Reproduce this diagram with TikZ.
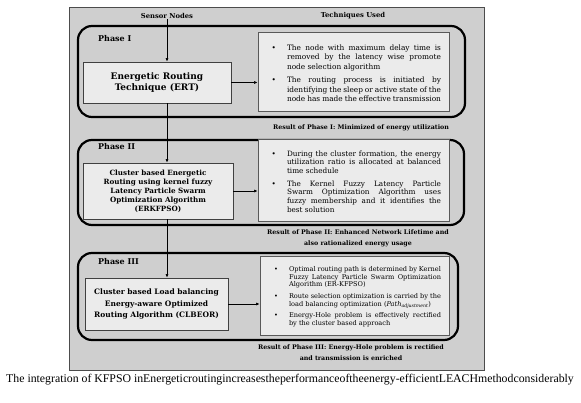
\documentclass[tikz,border=0pt]{standalone}
\usepackage{fontspec}
\setmainfont{DejaVu Serif}
\newfontfamily\capfont{Liberation Serif}
\usetikzlibrary{arrows.meta}
\hyphenpenalty=10000
\exhyphenpenalty=10000
\tolerance=9999
\emergencystretch=20pt
\definecolor{bggray}{HTML}{CFCFCF}
\definecolor{boxgray}{HTML}{EBEBEB}
\newenvironment{techlist}{\begin{list}{\textbullet}{\setlength{\leftmargin}{21pt}\setlength{\labelsep}{11pt}\setlength{\labelwidth}{10pt}\setlength{\itemsep}{4pt}\setlength{\parsep}{0pt}\setlength{\topsep}{0pt}\setlength{\partopsep}{0pt}}}{\end{list}}
\begin{document}
\begin{tikzpicture}[x=1pt,y=-1pt,
  phase/.style={draw=black, line width=2.2pt, rounded corners=14pt, inner sep=0pt},
  mainbox/.style={draw=black!75, fill=boxgray, line width=0.8pt, align=center, inner sep=2pt, font=\bfseries},
  techbox/.style={draw=black!65, fill=boxgray, line width=0.8pt, inner xsep=8pt, inner ysep=0pt, text width=175pt, align=justify},
  lbl/.style={font=\bfseries\fontsize{6.8}{8}\selectfont, inner sep=0pt},
  res/.style={font=\bfseries\fontsize{6.3}{11}\selectfont, align=center, inner sep=0pt},
  arr/.style={-{Latex[length=3.5pt,width=3pt]}, line width=0.6pt}
]
\useasboundingbox (0,0) rectangle (581,403);
\node[draw=black!70, fill=bggray, line width=0.8pt, minimum width=415pt, minimum height=363pt, inner sep=0pt] (bg) at (276.5,188.5) {};

% Phase frames
\node[phase, minimum width=387pt, minimum height=91pt] (ph1) at (271.5,71.5) {};
\node[phase, minimum width=386pt, minimum height=85pt] (ph2) at (271,182.5) {};
\node[phase, minimum width=380pt, minimum height=87pt] (ph3) at (268,296.5) {};

% Headers
\node[lbl] (sn) at (167,16) {Sensor Nodes};
\node[lbl] (tu) at (353,16) {Techniques Used};

\node[lbl, font=\bfseries\fontsize{8}{9}\selectfont, anchor=west] (l1) at (98,39) {Phase I};
\node[lbl, font=\bfseries\fontsize{8}{9}\selectfont, anchor=west] (l2) at (98,147) {Phase II};
\node[lbl, font=\bfseries\fontsize{8}{9}\selectfont, anchor=west] (l3) at (98,262) {Phase III};

% Main boxes
\node[mainbox, minimum width=148pt, minimum height=41pt, font=\bfseries\fontsize{9}{11.5}\selectfont] (ert) at (157,82.5) {Energetic Routing\\Technique (ERT)};
\node[mainbox, minimum width=150pt, minimum height=56pt, font=\bfseries\fontsize{7.2}{9}\selectfont] (erk) at (158,191) {Cluster based Energetic\\Routing using kernel fuzzy\\Latency Particle Swarm\\Optimization Algorithm\\(ERKFPSO)};
\node[mainbox, minimum width=143pt, minimum height=52pt, font=\bfseries\fontsize{7.5}{11.5}\selectfont] (clb) at (156.5,304) {Cluster based Load balancing\\Energy-aware Optimized\\Routing Algorithm (CLBEOR)};

% Technique boxes
\node[techbox, minimum height=79pt, font=\fontsize{7.4}{9.5}\selectfont] (t1) at (353.5,71.5) {\begin{techlist}
\item The node with maximum delay time is removed by the latency wise promote node selection algorithm
\item The routing process is initiated by identifying the sleep or active state of the node has made the effective transmission
\end{techlist}};
\node[techbox, minimum height=82pt, font=\fontsize{7.3}{8.7}\selectfont] (t2) at (353.5,180) {\begin{techlist}
\item During the cluster formation, the energy utilization ratio is allocated at balanced time schedule
\item The Kernel Fuzzy Latency Particle\linebreak Swarm Optimization Algorithm uses\linebreak fuzzy membership and it identifies the\linebreak best solution
\end{techlist}};
\node[techbox, text width=173pt, minimum height=79pt, font=\fontsize{6.6}{7.6}\selectfont] (t3) at (354.5,295.5) {\begin{techlist}
\item Optimal routing path is determined by Kernel Fuzzy Latency Particle Swarm Optimization Algorithm (ER-KFPSO)
\item Route selection optimization is carried by the load balancing optimization (\textit{Path}\textsubscript{\textit{adjustment}})
\item Energy-Hole problem is effectively rectified by the cluster based approach
\end{techlist}};

% Results
\node[res] (r1) at (361,128) {Result of Phase I: Minimized of energy utilization};
\node[res] (r2) at (358,238) {Result of Phase II: Enhanced Network Lifetime and\\also rationalized energy usage};
\node[res] (r3) at (351,352.5) {Result of Phase III: Energy-Hole problem is rectified\\and transmission is enriched};

% Connectors
\draw[arr] (sn.south) -- (sn.south |- ert.north);
\draw[arr] (ert.south -| sn) -- (erk.north -| sn);
\draw[arr] (erk.south -| sn) -- (clb.north -| sn);
\draw[arr] (ert.east) -- (t1.west |- ert.east);
\draw[arr] (erk.east) -- (t2.west |- erk.east);
\draw[arr] (clb.east) -- (t3.west |- clb.east);

% Caption
\node[font=\capfont\fontsize{11.8}{14}\selectfont, inner sep=0pt] (cap) at (290,380) {The integration of KFPSO inEnergeticroutingincreasestheperformanceoftheenergy-efficientLEACHmethodconsiderably};
\end{tikzpicture}
\end{document}
